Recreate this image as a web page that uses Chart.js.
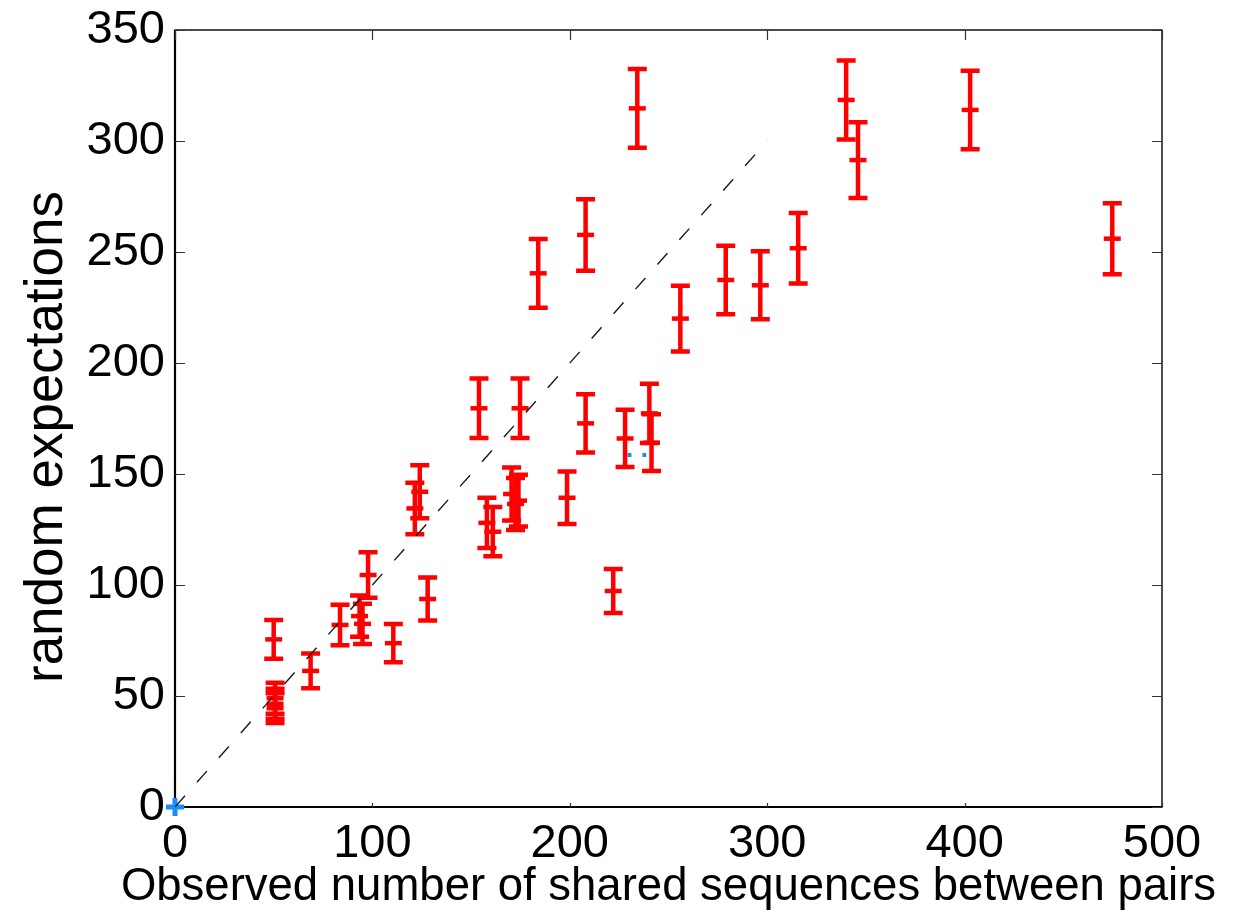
<!DOCTYPE html>
<html>
<head>
<meta charset="utf-8">
<script src="https://cdn.jsdelivr.net/npm/chart.js@4/dist/chart.umd.min.js"></script>
<style>
  html, body { margin: 0; padding: 0; background: #fff; }
  #wrap { width: 1233px; height: 913px; }
</style>
</head>
<body>
<div id="wrap"><canvas id="chart" width="1233" height="913"></canvas></div>
<script>
// ── data ──────────────────────────────────────────────────────────────────────
const obsX = [50, 50.7, 50.7, 50.7, 68.7, 83.6, 93.5, 95, 97.8, 110.6,
              124, 121.5, 128, 154, 158, 161, 170.5, 174, 172.5, 174.8,
              184, 198.6, 208, 208, 222, 228, 234.2, 240.3, 241.4, 256,
              279, 296.5, 315.7, 340, 346, 402.8, 474.8];
const expY = [75.5, 49, 46.5, 44.5, 61.3, 82, 86, 82.5, 104.5, 73.8,
              142, 134.5, 93.7, 179.6, 128, 124, 141, 138, 136.5, 179.6,
              240.4, 139.3, 172.8, 257.7, 97.3, 166, 314.7, 177.3, 164.1, 220,
              237.4, 235, 251.7, 318.5, 291.4, 314, 256];
const errY = [8.7, 7.0, 6.8, 6.7, 7.8, 9.1, 9.3, 9.1, 10.2, 8.6,
              11.9, 11.6, 9.7, 13.4, 11.3, 11.1, 11.9, 11.7, 11.7, 13.4,
              15.5, 11.8, 13.1, 16.1, 9.9, 12.9, 17.7, 13.3, 12.8, 14.8,
              15.4, 15.3, 15.9, 17.8, 17.1, 17.7, 16.0];

// y = x reference line
const diagX = [0, 300];
const diagY = [0, 300];

// blue series: origin marker and the short dotted piece peeking out
const blueX = [0];
const blueY = [0];
const blueDotX = [229.2, 238.7];
const blueDotY = [158.6, 158.6];

const xTicks = [0, 100, 200, 300, 400, 500];
const yTicks = [0, 50, 100, 150, 200, 250, 300, 350];

const xTitle = 'Observed number of shared sequences between pairs';
const yTitle = 'random expectations';

const RED  = '#ff0000';
const BLUE = '#1a8cff';
const FONT = '"Liberation Sans", Arial, Helvetica, sans-serif';

const pts = (xs, ys) => xs.map((v, i) => ({ x: v, y: ys[i] }));

// ── plugins ───────────────────────────────────────────────────────────────────
const frame = {
  id: 'frame',
  beforeDatasetsDraw(chart) {
    const { ctx, chartArea: a, scales: { x, y } } = chart;
    ctx.save();
    ctx.strokeStyle = '#000';
    ctx.lineWidth = 1.4;
    ctx.strokeRect(a.left, a.top, a.right - a.left, a.bottom - a.top);
    ctx.lineWidth = 2.2;
    ctx.beginPath();
    ctx.moveTo(a.left, a.top); ctx.lineTo(a.left, a.bottom); ctx.lineTo(a.right, a.bottom);
    ctx.stroke();

    // inward tick marks on all four sides
    ctx.strokeStyle = '#333';
    ctx.lineWidth = 1.2;
    ctx.beginPath();
    yTicks.forEach(v => {
      const py = Math.round(y.getPixelForValue(v)) + 0.5;
      ctx.moveTo(a.left, py);  ctx.lineTo(a.left + 10, py);
      ctx.moveTo(a.right, py); ctx.lineTo(a.right - 10, py);
    });
    xTicks.forEach(v => {
      const px = Math.round(x.getPixelForValue(v)) + 0.5;
      ctx.moveTo(px, a.top);    ctx.lineTo(px, a.top + 10);
      ctx.moveTo(px, a.bottom); ctx.lineTo(px, a.bottom - 4);
    });
    ctx.stroke();
    ctx.restore();
  },
  afterDraw(chart) {
    // axis titles, drawn at full width (the scale title would squeeze them)
    const { ctx, chartArea: a } = chart;
    ctx.save();
    ctx.fillStyle = '#000';
    ctx.textAlign = 'center';
    ctx.textBaseline = 'middle';
    ctx.font = '45.5px ' + FONT;
    ctx.fillText(xTitle, (a.left + a.right) / 2, 887);
    ctx.translate(47, 437);
    ctx.rotate(-Math.PI / 2);
    ctx.font = '53px ' + FONT;
    ctx.fillText(yTitle, 0, 0);
    ctx.restore();
  }
};

const errorBars = {
  id: 'errorBars',
  beforeDatasetDraw(chart, args) {
    if (chart.data.datasets[args.index].label !== 'observed') return;
    const { ctx, scales: { x, y } } = chart;
    ctx.save();
    ctx.strokeStyle = RED;
    ctx.lineWidth = 4.5;
    ctx.lineCap = 'butt';
    obsX.forEach((v, i) => {
      const px = x.getPixelForValue(v);
      const top = y.getPixelForValue(expY[i] + errY[i]);
      const bot = y.getPixelForValue(expY[i] - errY[i]);
      ctx.beginPath();
      ctx.moveTo(px, top - 2.2); ctx.lineTo(px, bot + 2.2);
      ctx.moveTo(px - 9.5, top); ctx.lineTo(px + 9.5, top);
      ctx.moveTo(px - 9.5, bot); ctx.lineTo(px + 9.5, bot);
      ctx.stroke();
    });
    ctx.restore();
  }
};

// ── chart ─────────────────────────────────────────────────────────────────────
new Chart(document.getElementById('chart'), {
  type: 'scatter',
  data: {
    datasets: [
      {
        label: 'diagonal', type: 'line', data: pts(diagX, diagY),
        borderColor: '#1a1a1a', borderWidth: 1.4, borderDash: [15, 18],
        pointRadius: 0, fill: false, order: 0
      },
      {
        label: 'blue', data: pts(blueX, blueY),
        pointStyle: 'cross', pointRadius: 9, borderWidth: 5,
        borderColor: BLUE, backgroundColor: BLUE, clip: false, order: 1
      },
      {
        label: 'observed', data: pts(obsX, expY),
        pointStyle: 'line', pointRadius: 8.5, borderWidth: 4.5,
        borderColor: RED, backgroundColor: RED, order: 2
      },
      {
        label: 'blueDotted', type: 'line', data: pts(blueDotX, blueDotY),
        borderColor: BLUE, borderWidth: 4, borderDash: [4, 11],
        pointRadius: 0, fill: false, order: 3
      }
    ]
  },
  options: {
    responsive: false,
    animation: false,
    events: [],
    layout: { padding: { left: 0, top: 30, right: 71, bottom: 0 } },
    plugins: { legend: { display: false }, tooltip: { enabled: false } },
    scales: {
      x: {
        type: 'linear', min: 0, max: 500,
        afterFit: s => { s.height = 106; s.paddingLeft = 0; s.paddingRight = 0; },
        afterBuildTicks: s => { s.ticks = xTicks.map(v => ({ value: v })); },
        grid: { display: false, drawTicks: false },
        border: { display: false },
        ticks: { color: '#000', padding: 9, maxRotation: 0, font: { family: FONT, size: 47 } },
        title: { display: false }
      },
      y: {
        type: 'linear', min: 0, max: 350,
        afterFit: s => { s.width = 175; s.paddingTop = 0; s.paddingBottom = 0; },
        afterBuildTicks: s => { s.ticks = yTicks.map(v => ({ value: v })); },
        grid: { display: false, drawTicks: false },
        border: { display: false },
        ticks: { color: '#000', padding: 10, font: { family: FONT, size: 47 } },
        title: { display: false }
      }
    }
  },
  plugins: [frame, errorBars]
});
</script>
</body>
</html>
